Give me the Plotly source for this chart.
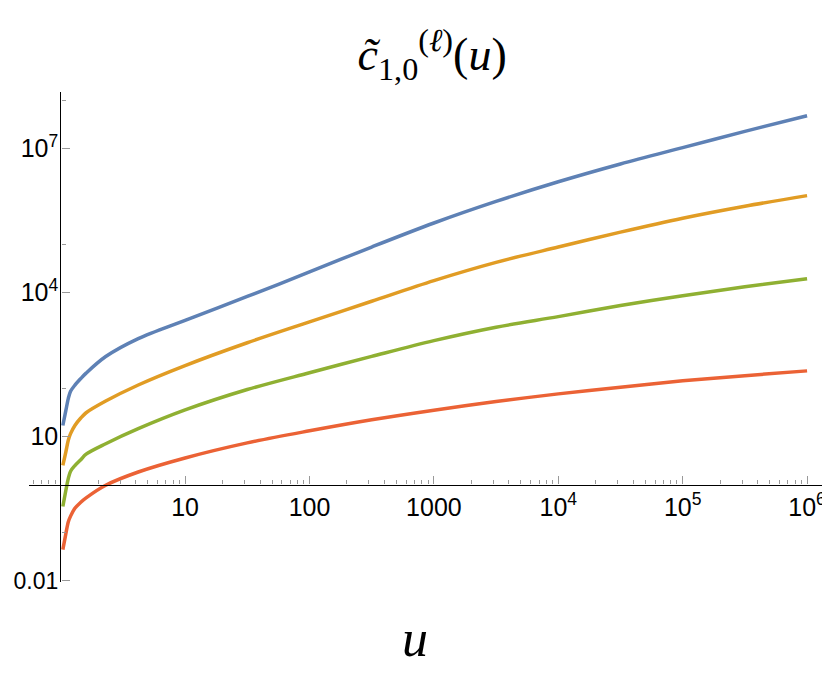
import plotly.graph_objects as go

# values (log-log)
u = [1.04, 1.1, 1.15, 1.2, 1.3, 1.45, 1.6, 2.3, 4.2, 10, 31.6, 100, 316, 1000, 3160,
     1e4, 31600, 1e5, 3.16e5, 1e6]

c_blue = [17, 35, 62, 88, 118, 162, 210, 465, 1100, 2650, 8300, 26900, 89100, 2.82e5, 7.94e5,
          2.04e6, 4.79e6, 1.05e7, 2.29e7, 4.84e7]
c_orange = [2.5, 4.8, 8.4, 11.5, 17, 24.4, 31.4, 55, 119, 302, 902, 2455, 6610, 17800, 42700,
            89100, 1.82e5, 3.55e5, 6.31e5, 1.05e6]
c_green = [0.35, 0.76, 1.33, 1.9, 2.49, 3.3, 4.3, 7.1, 14.6, 35.9, 95.5, 214, 468, 1000, 1905,
           3160, 5370, 8610, 13200, 19500]
c_red = [0.044, 0.095, 0.166, 0.22, 0.32, 0.43, 0.53, 0.97, 1.83, 3.59, 7.4, 13.2, 22.4, 35.5, 53.7,
         77.6, 107, 145, 186, 234]

colors = ["#5E81B5", "#E19C24", "#8FB032", "#EB6235"]

x_ticks = [10, 100, 1000, 1e4, 1e5, 1e6]
x_labels = ["10", "100", "1000", "10<sup>4</sup>", "10<sup>5</sup>", "10<sup>6</sup>"]
y_ticks = [0.01, 10, 1e4, 1e7]
y_labels = ["<span style='font-size:23px'>0.01</span>", "10", "10<sup>4</sup>", "10<sup>7</sup>"]

x_minor = [0.6, 0.7, 0.8, 0.9] + [m * 10 ** k for k in range(6) for m in range(2, 10)]
y_minor = [0.1, 100, 1e5, 1e8]

fig = go.Figure()
for series, col in zip([c_blue, c_orange, c_green, c_red], colors):
    fig.add_trace(go.Scatter(x=u, y=series, mode="lines",
                             line=dict(color=col, width=3.5, shape="spline", smoothing=0.9),
                             showlegend=False))

tickfont = dict(family="Liberation Sans, Arial, sans-serif", size=25, color="black")

# the page body adds an 8px margin, so the figure is 8px smaller than the window
fig.update_layout(
    width=822, height=676,
    margin=dict(l=21, r=8, t=84, b=102),
    plot_bgcolor="white", paper_bgcolor="white",
    title=dict(
        text="<i>c̃</i><sub>1,0</sub><sup>(<i>ℓ</i>)</sup>(<i>u</i>)",
        font=dict(family="Liberation Serif, serif", size=46, color="black"),
        x=0.516, xanchor="center", y=0.932, yanchor="middle",
    ),
    xaxis=dict(
        type="log", range=[-0.255, 6.12],
        anchor="free", position=0.1988, automargin=False,
        showline=True, linecolor="black", linewidth=1.3,
        showgrid=False, zeroline=False,
        ticks="inside", ticklen=8, tickwidth=1, tickcolor="#999999",
        tickmode="array", tickvals=x_ticks, ticktext=x_labels,
        tickfont=tickfont, ticklabelstandoff=0,
        minor=dict(tickmode="array", tickvals=x_minor, ticks="inside",
                   ticklen=4, tickcolor="#999999", tickwidth=1, showgrid=False),
    ),
    yaxis=dict(
        type="log", range=[-2.03, 8.18],
        anchor="free", position=0.0396, automargin=False,
        showline=True, linecolor="black", linewidth=1.3,
        showgrid=False, zeroline=False,
        ticks="inside", ticklen=8, tickwidth=1, tickcolor="#999999",
        tickmode="array", tickvals=y_ticks, ticktext=y_labels,
        tickfont=tickfont, ticklabelstandoff=-3,
        minor=dict(tickmode="array", tickvals=y_minor, ticks="inside",
                   ticklen=4, tickcolor="#999999", tickwidth=1, showgrid=False),
    ),
    annotations=[dict(
        text="<i>u</i>", xref="paper", yref="paper", x=0.487, y=-0.115,
        xanchor="center", yanchor="middle", showarrow=False,
        font=dict(family="Liberation Serif, serif", size=52, color="black"),
    )],
)

fig.write_html("out.html")
